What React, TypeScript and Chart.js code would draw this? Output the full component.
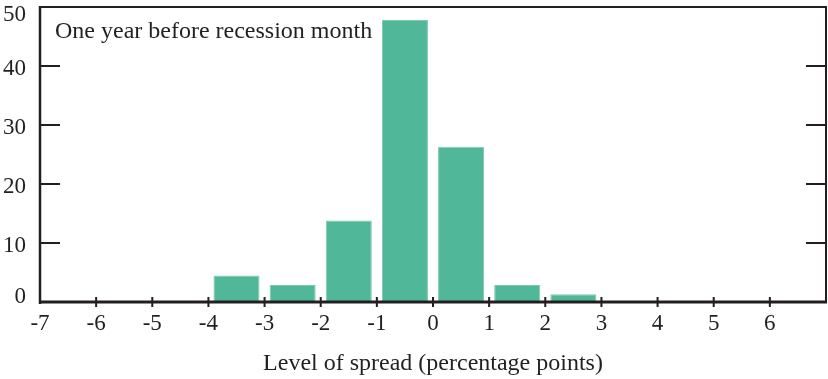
import React, { useEffect, useRef } from "react";
import { Chart, registerables } from "chart.js";

Chart.register(...registerables);

// Histogram bins: lower edge of each 1-point bin, and share of months (percent)
const binStarts = [-7, -6, -5, -4, -3, -2, -1, 0, 1, 2, 3, 4, 5, 6];
const binValues = [0, 0, 0, 4.5, 2.9, 13.8, 47.8, 26.3, 2.9, 1.3, 0, 0, 0, 0];
const xTickValues = [-7, -6, -5, -4, -3, -2, -1, 0, 1, 2, 3, 4, 5, 6, 7];
const yTickValues = [0, 10, 20, 30, 40, 50];

const panelTitle = "One year before recession month";
const xAxisTitle = "Level of spread (percentage points)";

const FONT = "'Liberation Serif', 'DejaVu Serif', serif";
const INK = "#231f20";
const BAR = "#50b798";

const framePlugin = {
  id: "frame",
  afterDraw(chart: any) {
    const { ctx, chartArea: a, scales } = chart;
    const xs = scales.x;
    const ys = scales.y;
    ctx.save();
    ctx.strokeStyle = INK;
    ctx.lineCap = "butt";
    // top & right frame
    ctx.lineWidth = 2;
    ctx.beginPath();
    ctx.moveTo(a.left, a.top);
    ctx.lineTo(a.right, a.top);
    ctx.moveTo(a.right, a.top - 1);
    ctx.lineTo(a.right, a.bottom);
    ctx.stroke();
    // left axis
    ctx.lineWidth = 2.5;
    ctx.beginPath();
    ctx.moveTo(a.left, a.top - 1);
    ctx.lineTo(a.left, a.bottom + 2);
    ctx.stroke();
    // bottom axis
    ctx.lineWidth = 3;
    ctx.beginPath();
    ctx.moveTo(a.left - 1, a.bottom);
    ctx.lineTo(a.right + 1, a.bottom);
    ctx.stroke();
    // y ticks inward on both sides
    ctx.lineWidth = 2;
    ctx.beginPath();
    for (const v of yTickValues) {
      if (v === 0 || v === 50) continue;
      const py = ys.getPixelForValue(v);
      ctx.moveTo(a.left, py);
      ctx.lineTo(a.left + 20, py);
      ctx.moveTo(a.right, py);
      ctx.lineTo(a.right - 20, py);
    }
    ctx.stroke();
    // x ticks crossing axis
    ctx.lineWidth = 2;
    ctx.beginPath();
    for (const v of xTickValues) {
      if (v === -7 || v === 7) continue;
      const px = xs.getPixelForValue(v);
      ctx.moveTo(px, a.bottom - 5);
      ctx.lineTo(px, a.bottom + 5);
    }
    ctx.stroke();
    // y tick labels
    ctx.fillStyle = INK;
    ctx.font = `23px ${FONT}`;
    ctx.textAlign = "right";
    ctx.textBaseline = "middle";
    for (const v of yTickValues) {
      let py = ys.getPixelForValue(v) + 2.5;
      if (v === 50) py = a.top + 8;
      if (v === 0) py = a.bottom - 5;
      ctx.fillText(String(v), a.left - 14, py);
    }
    // panel title
    ctx.font = `24px ${FONT}`;
    ctx.textAlign = "left";
    ctx.fillText(panelTitle, a.left + 15, 32);
    ctx.restore();
  },
};

export default function App() {
  const ref = useRef<HTMLCanvasElement>(null);
  useEffect(() => {
    if (!ref.current) return;
    const chart = new Chart(ref.current, {
      type: "bar",
      data: {
        datasets: [
          {
            data: binStarts.map((s, i) => ({ x: s + 0.5, y: binValues[i] })),
            backgroundColor: BAR,
            borderColor: "#7fcab3",
            borderWidth: 1,
            barPercentage: 0.82,
            categoryPercentage: 1,
          },
        ],
      },
      options: {
        animation: false,
        responsive: false,
        maintainAspectRatio: false,
        layout: { padding: { top: 7, right: 2, left: 0, bottom: 0 } },
        plugins: { legend: { display: false }, tooltip: { enabled: false }, title: { display: false } },
        scales: {
          x: {
            type: "linear",
            min: -7,
            max: 7,
            offset: false,
            afterBuildTicks: (s: any) => {
              s.ticks = xTickValues.map((v) => ({ value: v }));
            },
            afterFit: (s: any) => {
              s.height = 77;
              s.paddingLeft = 0;
              s.paddingRight = 0;
            },
            grid: { display: false, drawTicks: false },
            border: { display: false },
            ticks: {
              padding: 8,
              color: INK,
              font: { family: FONT, size: 23 },
              maxRotation: 0,
              autoSkip: false,
              callback: (v: any) => (Number(v) === 7 ? "" : String(v)),
            },
            title: {
              display: true,
              text: xAxisTitle,
              color: INK,
              font: { family: FONT, size: 24 },
              padding: { top: 0, bottom: 1 },
            },
          },
          y: {
            type: "linear",
            min: 0,
            max: 50,
            afterBuildTicks: (s: any) => {
              s.ticks = yTickValues.map((v) => ({ value: v }));
            },
            afterFit: (s: any) => {
              s.width = 40;
              s.paddingTop = 0;
              s.paddingBottom = 0;
            },
            grid: { display: false, drawTicks: false },
            border: { display: false },
            ticks: { display: false },
          },
        },
      },
      plugins: [framePlugin],
    } as any);
    return () => chart.destroy();
  }, []);
  return (
    <div style={{ position: "fixed", left: 0, top: 0, width: 828, height: 379, background: "#fff" }}>
      <canvas ref={ref} width={828} height={379} style={{ display: "block", width: 828, height: 379 }} />
    </div>
  );
}
